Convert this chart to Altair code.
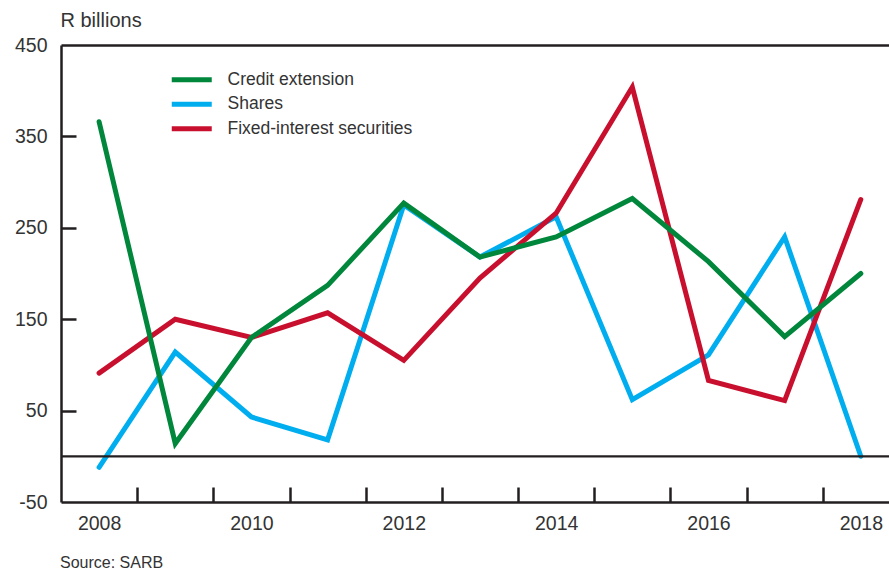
import altair as alt
import pandas as pd

years = [2008, 2009, 2010, 2011, 2012, 2013, 2014, 2015, 2016, 2017, 2018]
credit = [366, 14, 130, 187, 277, 218, 240, 282, 213, 131, 200]
shares = [-12, 114, 43, 18, 275, 218, 262, 62, 111, 240, 0]
fixed = [91, 150, 130, 157, 105, 195, 266, 404, 83, 61, 281]

series = ["Credit extension", "Shares", "Fixed-interest securities"]
colors = ["#00873C", "#00AEEF", "#C8102E"]

x_label_years = [2008, 2010, 2012, 2014, 2016, 2018]
x_tick_years = [2008.5, 2009.5, 2010.5, 2011.5, 2012.5, 2013.5, 2014.5, 2015.5, 2016.5, 2017.5]
y_label_values = [-50, 50, 150, 250, 350, 450]
y_tick_values = [50, 150, 250, 350]

# draw order: shares, fixed, credit (credit on top)
rows = []
for name, vals in [("Shares", shares), ("Fixed-interest securities", fixed), ("Credit extension", credit)]:
    for yr, v in zip(years, vals):
        rows.append({"year": yr, "value": v, "series": name})
df = pd.DataFrame(rows)

FONT = "Liberation Sans"
TXT = "#333333"
AX = "#231F20"

xscale = alt.Scale(domain=[2007.5, 2018.37], nice=False, zero=False)
yscale = alt.Scale(domain=[-50, 450], nice=False, zero=False)

base = alt.Chart(df)

lines = base.mark_line(strokeWidth=5, strokeCap="round", strokeJoin="miter").encode(
    x=alt.X("year:Q", scale=xscale,
            axis=alt.Axis(values=x_label_years, orient="bottom", format="d", tickSize=0,
                          labelPadding=12, labelFontSize=19.5, labelColor=TXT, labelFont=FONT,
                          domainColor=AX, domainWidth=2.5, grid=False, title=None)),
    y=alt.Y("value:Q", scale=yscale,
            axis=alt.Axis(values=y_label_values, orient="left", tickSize=0, labelPadding=14,
                          labelExpr="toString(datum.value)",
                          labelFontSize=19.5, labelColor=TXT, labelFont=FONT,
                          domainColor=AX, domainWidth=2.5, grid=False,
                          title="R billions", titleAngle=0, titleAlign="left",
                          titleBaseline="alphabetic", titleX=-1, titleY=-19,
                          titleFont=FONT, titleFontSize=20, titleFontWeight="normal",
                          titleColor=TXT)),
    color=alt.Color("series:N",
                    scale=alt.Scale(domain=series, range=colors),
                    legend=alt.Legend(title=None, orient="none", legendX=122, legendY=26,
                                      symbolType="M-4,0L4,0", symbolSize=100,
                                      symbolStrokeWidth=5, labelFontSize=17.5,
                                      labelFont=FONT, labelColor=TXT, labelOffset=27,
                                      labelLimit=400, rowPadding=3.5)),
)

tick_layer = base.mark_line(opacity=0).encode(
    x=alt.X("year:Q", scale=xscale,
            axis=alt.Axis(values=x_tick_years, orient="bottom", offset=-15, tickSize=15,
                          tickWidth=2.5, tickColor=AX, labels=False, domain=False,
                          grid=False, title=None)),
    y=alt.Y("value:Q", scale=yscale,
            axis=alt.Axis(values=y_tick_values, orient="left", offset=-15, tickSize=15,
                          tickWidth=2.5, tickColor=AX, labels=False, domain=False,
                          grid=False, title=None)),
)

top_layer = base.mark_line(opacity=0).encode(
    x=alt.X("year:Q", scale=xscale,
            axis=alt.Axis(orient="top", labels=False, ticks=False, domain=True,
                          domainColor=AX, domainWidth=2.5, grid=False, title=None)),
    y=alt.Y("value:Q", scale=yscale, axis=None),
)

zero_line = alt.Chart(pd.DataFrame({"z": [0]})).mark_rule(color=AX, strokeWidth=2.2).encode(
    y=alt.Y("z:Q", scale=yscale, axis=None)
)

source = alt.Chart(pd.DataFrame({"t": ["Source: SARB"]})).mark_text(
    align="left", baseline="middle", font=FONT, fontSize=16, color=TXT
).encode(text="t:N", x=alt.value(-1), y=alt.value(518))

chart = alt.layer(lines, tick_layer, top_layer, zero_line, source).resolve_axis(
    x="independent", y="independent"
).properties(
    width=828, height=457,
    autosize=alt.AutoSizeParams(type="none"),
    padding={"left": 61, "top": 45, "right": 0, "bottom": 69},
).configure_view(stroke=None)

chart.save("out.html", embed_options={"renderer": "svg", "actions": False})
